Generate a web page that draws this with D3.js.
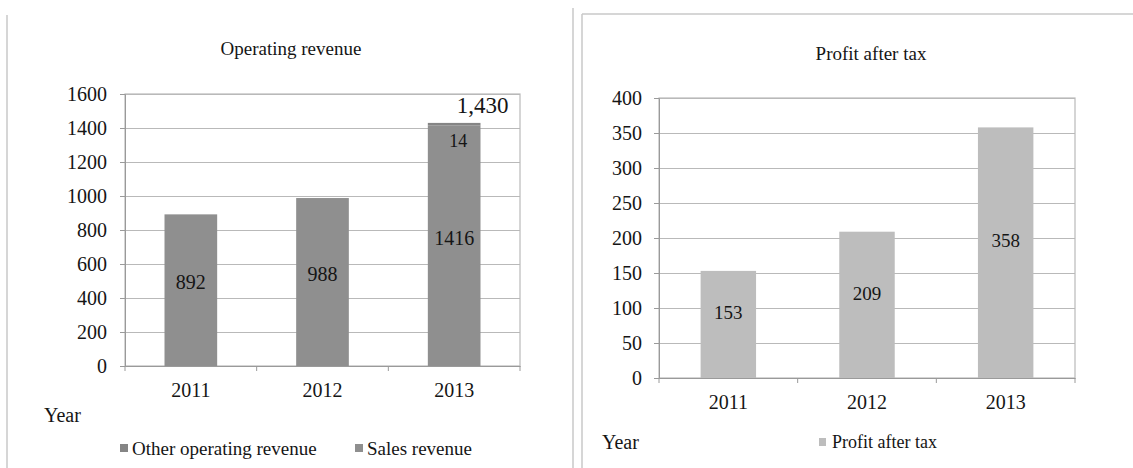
<!DOCTYPE html>
<html>
<head>
<meta charset="utf-8">
<script src="https://cdn.jsdelivr.net/npm/d3@7"></script>
<style>
  html, body { margin: 0; padding: 0; background: #ffffff; }
  svg { display: block; }
  text { font-family: "Liberation Serif", "Times New Roman", serif; fill: #151515; }
</style>
</head>
<body>
<svg id="chart" width="1133" height="468"></svg>
<script>
// ---- data ----
const years = ["2011", "2012", "2013"];
const salesRevenue = [892, 988, 1416];
const otherOperatingRevenue = [0, 0, 14];
const profitAfterTax = [153, 209, 358];
const revenueTicks = [0, 200, 400, 600, 800, 1000, 1200, 1400, 1600];
const profitTicks = [0, 50, 100, 150, 200, 250, 300, 350, 400];
const revenueSeriesNames = ["Other operating revenue", "Sales revenue"];
const profitSeriesNames = ["Profit after tax"];

// ---- styles ----
const colSales = "#8f8f8f";
const colOther = "#858585";
const colProfit = "#bdbdbd";
const gridCol = "#b9b9b9";
const frameCol = "#c8c8c8";
const fontSize = 19;
const tickFont = 20;

const svg = d3.select("#chart");

// panel frames
const frames = svg.append("g").attr("fill", "none").attr("stroke", frameCol).attr("stroke-width", 1.5);
frames.append("line").attr("x1", 7).attr("x2", 7).attr("y1", 15).attr("y2", 468);
frames.append("line").attr("x1", 573).attr("x2", 573).attr("y1", 8).attr("y2", 468);
frames.append("line").attr("x1", 582).attr("x2", 582).attr("y1", 14).attr("y2", 468);
frames.append("line").attr("x1", 582).attr("x2", 1133).attr("y1", 14).attr("y2", 14);

function drawPanel(cfg) {
  const g = svg.append("g");
  const x = d3.scaleBand().domain(years).range([cfg.left, cfg.right]).paddingInner(0.6).paddingOuter(0.3);
  const xb = d3.scaleBand().domain(years).range([cfg.left, cfg.right]);
  const y = d3.scaleLinear().domain([cfg.ticks[0], cfg.ticks[cfg.ticks.length - 1]]).range([cfg.bottom, cfg.top]);

  // title
  g.append("text").attr("x", cfg.titleX).attr("y", cfg.titleY).attr("dy", "0.35em")
    .attr("text-anchor", "middle").attr("font-size", fontSize).text(cfg.title);

  // gridlines
  g.append("g").selectAll("line").data(cfg.ticks).join("line")
    .attr("x1", cfg.left).attr("x2", cfg.right)
    .attr("y1", d => Math.round(y(d)) + 0.5).attr("y2", d => Math.round(y(d)) + 0.5)
    .attr("stroke", gridCol).attr("stroke-width", 1.2);

  // plot border
  g.append("rect").attr("x", cfg.left).attr("y", cfg.top)
    .attr("width", cfg.right - cfg.left).attr("height", cfg.bottom - cfg.top)
    .attr("fill", "none").attr("stroke", gridCol).attr("stroke-width", 1.2);

  // y axis
  const ya = g.append("g").attr("transform", `translate(${cfg.left},0)`)
    .call(d3.axisLeft(y).tickValues(cfg.ticks).tickSize(5).tickPadding(cfg.tickPad).tickFormat(d3.format("d")));
  ya.attr("font-family", null);
  ya.select(".domain").attr("stroke", "#9a9a9a");
  ya.selectAll(".tick line").attr("stroke", "#9a9a9a");
  ya.selectAll("text").attr("font-size", tickFont).attr("fill", null);

  // x axis with ticks on category boundaries
  const xa = g.append("g").attr("transform", `translate(0,${cfg.bottom})`)
    .call(d3.axisBottom(xb).tickSize(0).tickPadding(cfg.xPad));
  xa.attr("font-family", null);
  xa.select(".domain").attr("stroke", "#9a9a9a");
  xa.selectAll("text").attr("font-size", tickFont).attr("fill", null);
  g.append("g").selectAll("line").data(d3.range(years.length + 1)).join("line")
    .attr("x1", i => cfg.left + i * xb.step()).attr("x2", i => cfg.left + i * xb.step())
    .attr("y1", cfg.bottom).attr("y2", cfg.bottom + 5).attr("stroke", "#9a9a9a");

  // "Year" axis caption
  g.append("text").attr("x", cfg.yearX).attr("y", cfg.yearY).attr("dy", "0.35em")
    .attr("font-size", tickFont).text("Year");

  return { g, x, y };
}

// ---- Operating revenue (stacked columns) ----
const p1 = drawPanel({
  title: "Operating revenue", titleX: 291, titleY: 48,
  left: 125, right: 520, top: 94, bottom: 366,
  ticks: revenueTicks, tickPad: 13, xPad: 17,
  yearX: 44, yearY: 415
});

const stackRows = years.map((yr, i) => ({ year: yr, sales: salesRevenue[i], other: otherOperatingRevenue[i] }));
const stacked = d3.stack().keys(["sales", "other"])(stackRows);
const stackColors = { sales: colSales, other: colOther };

p1.g.append("g").selectAll("g").data(stacked).join("g")
  .attr("fill", s => stackColors[s.key])
  .selectAll("rect").data(s => s).join("rect")
  .attr("x", d => p1.x(d.data.year))
  .attr("width", p1.x.bandwidth())
  .attr("y", d => p1.y(d[1]))
  .attr("height", d => p1.y(d[0]) - p1.y(d[1]));

// sales revenue labels
p1.g.append("g").selectAll("text").data(stacked[0]).join("text")
  .attr("x", d => p1.x(d.data.year) + p1.x.bandwidth() / 2)
  .attr("y", d => p1.y((d[0] + d[1]) / 2) - 8)
  .attr("dy", "0.35em").attr("text-anchor", "middle").attr("font-size", tickFont)
  .text(d => d.data.sales);

// other operating revenue labels and totals, where present
const withOther = stacked[1].filter(d => d.data.other > 0);
p1.g.append("g").selectAll("text").data(withOther).join("text")
  .attr("x", d => p1.x(d.data.year) + p1.x.bandwidth() / 2 + 4)
  .attr("y", d => p1.y(d[1]) + 18)
  .attr("dy", "0.35em").attr("text-anchor", "middle").attr("font-size", 18)
  .text(d => d.data.other);
p1.g.append("g").selectAll("text").data(withOther).join("text")
  .attr("x", d => p1.x(d.data.year) + p1.x.bandwidth() + 28)
  .attr("y", d => p1.y(d[1]) - 18)
  .attr("dy", "0.35em").attr("text-anchor", "end").attr("font-size", 23)
  .text(d => d3.format(",")(d[1]));

// legend
const leg1 = p1.g.append("g");
const leg1Items = [
  { name: revenueSeriesNames[0], color: colOther, sx: 120 },
  { name: revenueSeriesNames[1], color: colSales, sx: 355 }
];
leg1.selectAll("rect").data(leg1Items).join("rect")
  .attr("x", d => d.sx).attr("y", 444).attr("width", 8).attr("height", 8).attr("fill", d => d.color);
leg1.selectAll("text").data(leg1Items).join("text")
  .attr("x", d => d.sx + 12).attr("y", 448).attr("dy", "0.35em").attr("font-size", fontSize)
  .text(d => d.name);

// ---- Profit after tax ----
const p2 = drawPanel({
  title: "Profit after tax", titleX: 871, titleY: 53,
  left: 659, right: 1075, top: 98, bottom: 378,
  ticks: profitTicks, tickPad: 12, xPad: 17,
  yearX: 602, yearY: 442
});

p2.g.append("g").selectAll("rect").data(years).join("rect")
  .attr("fill", colProfit)
  .attr("x", d => p2.x(d))
  .attr("width", p2.x.bandwidth())
  .attr("y", (d, i) => p2.y(profitAfterTax[i]))
  .attr("height", (d, i) => p2.y(0) - p2.y(profitAfterTax[i]));

p2.g.append("g").selectAll("text").data(years).join("text")
  .attr("x", d => p2.x(d) + p2.x.bandwidth() / 2)
  .attr("y", (d, i) => p2.y(profitAfterTax[i] / 2) - 12)
  .attr("dy", "0.35em").attr("text-anchor", "middle").attr("font-size", fontSize)
  .text((d, i) => profitAfterTax[i]);

const leg2 = p2.g.append("g");
leg2.append("rect").attr("x", 819).attr("y", 438).attr("width", 7).attr("height", 8).attr("fill", colProfit);
leg2.append("text").attr("x", 832).attr("y", 442).attr("dy", "0.35em").attr("font-size", 18)
  .text(profitSeriesNames[0]);
</script>
</body>
</html>
